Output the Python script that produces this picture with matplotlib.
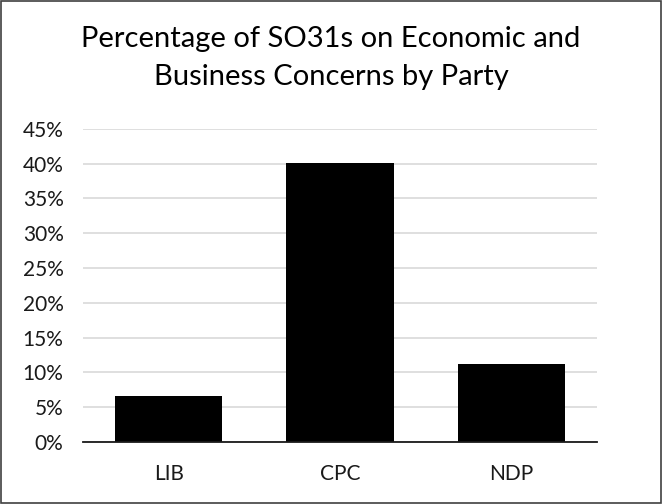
import matplotlib.pyplot as plt
from matplotlib.patches import Rectangle

parties = ["LIB", "CPC", "NDP"]
shares = [6.65, 40.1, 11.15]  # percent
yticks = [0, 5, 10, 15, 20, 25, 30, 35, 40, 45]

plt.rcParams['font.family'] = ['Lato', 'DejaVu Sans']

fig = plt.figure(figsize=(6.62, 5.04), dpi=100)
ax = fig.add_axes([0.1254, 0.123, 0.7764, 0.6214])

x = range(len(parties))
ax.bar(x, shares, width=0.625, color='black', zorder=3)

ax.set_xlim(-0.5, 2.5)
ax.set_ylim(0, 45)
ax.set_yticks(yticks)
ax.set_yticklabels([f"{v}%" for v in yticks], fontsize=15, color='#1a1a1a')
ax.set_xticks(list(x))
ax.set_xticklabels(parties, fontsize=15, color='#1a1a1a')

ax.grid(axis='y', color='#d9d9d9', linewidth=1.2, zorder=0)
for s in ['top', 'right', 'left']:
    ax.spines[s].set_visible(False)
ax.spines['bottom'].set_color('#1a1a1a')
ax.spines['bottom'].set_linewidth(1.3)
ax.spines['bottom'].set_zorder(4)
ax.tick_params(length=0)
ax.tick_params(axis='y', pad=14)
ax.tick_params(axis='x', pad=16)

fig.text(0.5, 0.885, "Percentage of SO31s on Economic and\nBusiness Concerns by Party",
         ha='center', va='center', fontsize=21, color='black', linespacing=1.6)

fig.patches.append(Rectangle((0.001, 0.001), 0.997, 0.997, transform=fig.transFigure,
                             fill=False, edgecolor='#404040', linewidth=1.2))

fig.savefig("out.png", dpi=100)
